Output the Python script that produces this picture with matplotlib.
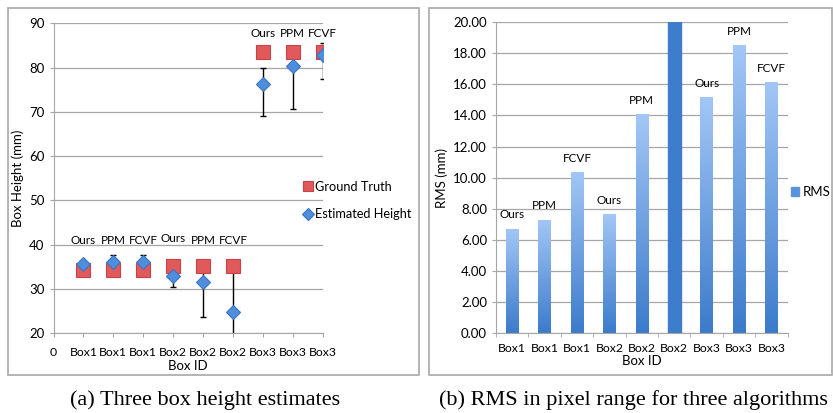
import numpy as np
import matplotlib.pyplot as plt
from matplotlib.colors import LinearSegmentedColormap
from matplotlib.patches import Rectangle

plt.rcParams['font.family'] = ['Lato', 'DejaVu Sans']

# ---- data: (a) box height estimates
box_ids = ['Box1', 'Box1', 'Box1', 'Box2', 'Box2', 'Box2', 'Box3', 'Box3', 'Box3']
methods = ['Ours', 'PPM', 'FCVF', 'Ours', 'PPM', 'FCVF', 'Ours', 'PPM', 'FCVF']
ground_truth = [34.3, 34.3, 34.3, 35.1, 35.1, 35.1, 83.6, 83.6, 83.6]
estimated = [35.7, 36.1, 36.0, 32.9, 31.6, 24.9, 76.4, 80.4, 82.9]
est_min = [34.8, 34.6, 34.5, 30.4, 23.6, 13.6, 69.1, 70.6, 77.5]
est_max = [35.7, 37.7, 37.7, 35.0, 34.5, 36.2, 80.0, 83.5, 85.6]
label_y = [41.0, 41.0, 41.0, 41.3, 41.0, 41.0, 87.7, 87.7, 87.7]

# ---- data: (b) RMS
rms = [6.72, 7.29, 10.36, 7.65, 14.06, 20.0, 15.17, 18.5, 16.13]
rms_labels = ['Ours', 'PPM', 'FCVF', 'Ours', 'PPM', '', 'Ours', 'PPM', 'FCVF']

fig = plt.figure(figsize=(8.33, 4.13), dpi=100)

# panel frames
for x0, x1 in [(8, 419), (429, 832)]:
    fig.patches.append(Rectangle((x0 / 833, 1 - 375 / 413), (x1 - x0) / 833, (375 - 8) / 413,
                                 transform=fig.transFigure, fill=False, edgecolor='#A8A8A8', lw=1.2))

grid_c = '#A6A6A6'
fs = 9.5

def style_axes(ax):
    for s in ['top', 'right']:
        ax.spines[s].set_visible(False)
    ax.spines['left'].set_color(grid_c)
    ax.spines['bottom'].set_color(grid_c)
    ax.tick_params(colors=grid_c, labelcolor='black', labelsize=fs, length=3)
    ax.tick_params(axis='x', pad=7, labelsize=8.8)
    ax.grid(axis='y', color=grid_c, lw=0.9)
    ax.set_axisbelow(True)

# ---- (a)
ax1 = fig.add_axes([53.5 / 833, 1 - 333.3 / 413, (322.7 - 53.5) / 833, (333.3 - 23.3) / 413])
style_axes(ax1)
x = np.arange(1, len(box_ids) + 1)
est = np.array(estimated)
yerr = [est - np.array(est_min), np.array(est_max) - est]
ax1.errorbar(x, est, yerr=yerr, fmt='none', ecolor='black', elinewidth=1, capsize=2.5, zorder=3)
ax1.plot(x, ground_truth, 's', ms=10, mfc='#E05A5C', mec='#C94346', mew=0.8, ls='none',
         label='Ground Truth', zorder=4)
ax1.plot(x, estimated, 'D', ms=7.5, mfc='#4F8EDC', mec='#3B74C0', mew=0.8, ls='none',
         label='Estimated Height', zorder=5)
for xi, yi, m in zip(x, label_y, methods):
    ax1.text(xi, yi, m, ha='center', va='center', fontsize=8.5)
ax1.set_xlim(0, 9)
ax1.set_ylim(20, 90)
ax1.set_yticks(range(20, 91, 10))
ax1.set_xticks(range(0, 10))
ax1.set_xticklabels(['0'] + box_ids)
ax1.set_xlabel('Box ID', fontsize=fs, labelpad=1)
ax1.set_ylabel('Box Height (mm)', fontsize=fs, labelpad=4)
ax1.legend(loc='center left', bbox_to_anchor=(0.88, 0.428), frameon=False, fontsize=9.2,
           handletextpad=0.05, handlelength=1.0, labelspacing=1.2, markerscale=0.75)

# ---- (b)
ax2 = fig.add_axes([496 / 833, 1 - 333.3 / 413, (787.7 - 496) / 833, (333.3 - 22) / 413])
style_axes(ax2)
xb = np.arange(len(rms))
bars = ax2.bar(xb, rms, width=0.39, color='#5B93DA', label='RMS', zorder=2)
cmap = LinearSegmentedColormap.from_list('rmsgrad', ['#3C7BCB', '#A3C7F6'])
grad = np.linspace(0, 1, 256).reshape(-1, 1)
for b, lab in zip(bars, rms_labels):
    bx, by, bw, bh = b.get_x(), b.get_y(), b.get_width(), b.get_height()
    b.set_facecolor('none')
    b.set_edgecolor('none')
    if lab == '':
        ax2.add_patch(Rectangle((bx, by), bw, bh, color='#3E7DCB', zorder=2))
    else:
        im = ax2.imshow(grad, cmap=cmap, origin='lower', aspect='auto',
                        extent=(bx, bx + bw, by, by + bh), zorder=2)
        im.set_clip_path(b)
        ax2.annotate(lab, (bx + bw / 2, bh), xytext=(0, 6), textcoords='offset points',
                     ha='center', va='bottom', fontsize=8.5)
ax2.set_xlim(-0.5, len(rms) - 0.5)
ax2.set_ylim(0, 20)
ax2.set_yticks(np.arange(0, 20.1, 2))
ax2.set_yticklabels([f'{v:.2f}' for v in np.arange(0, 20.1, 2)])
ax2.set_xticks(np.arange(-0.5, len(rms)), minor=True)
ax2.set_xticks(xb)
ax2.set_xticklabels(box_ids)
ax2.tick_params(axis='x', which='major', length=0)
ax2.tick_params(axis='x', which='minor', length=3, color=grid_c)
ax2.set_xlabel('Box ID', fontsize=fs, labelpad=1)
ax2.set_ylabel('RMS (mm)', fontsize=fs, labelpad=4)
leg_handle = Rectangle((0, 0), 1, 1, color='#5B93DA')
ax2.legend([leg_handle], ['RMS'], loc='center left', bbox_to_anchor=(0.97, 0.454), frameon=False,
           fontsize=fs, handletextpad=0.3, handlelength=0.6, handleheight=0.6)

# captions
fig.text(205 / 833, 1 - 400 / 413, '(a) Three box height estimates', ha='center', va='center',
         fontsize=16, family='Liberation Serif')
fig.text(633 / 833, 1 - 400 / 413, '(b) RMS in pixel range for three algorithms', ha='center',
         va='center', fontsize=16, family='Liberation Serif')

plt.savefig('out.png', dpi=100)
plt.close()
